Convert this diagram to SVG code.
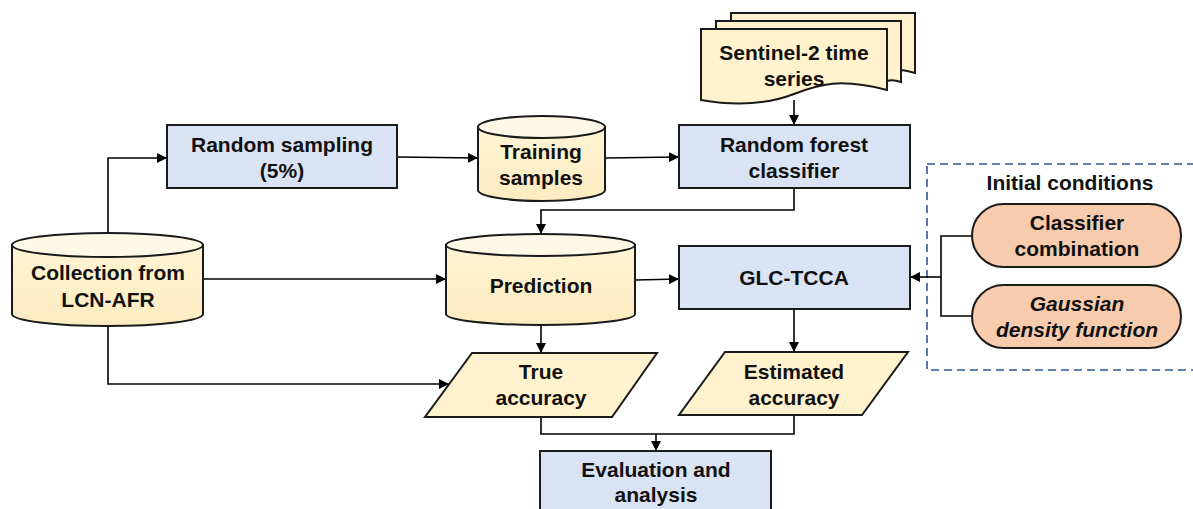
<svg xmlns="http://www.w3.org/2000/svg" width="1193" height="509" viewBox="0 0 1193 509">
  <defs>
    <marker id="arrow" viewBox="0 0 10 10" refX="10" refY="5" markerWidth="10" markerHeight="10" markerUnits="userSpaceOnUse" orient="auto">
      <path d="M0,0 L10,5 L0,10 Z" fill="#000"/>
    </marker>
    <linearGradient id="cylBody" x1="0" y1="0" x2="0" y2="1">
      <stop offset="0" stop-color="#FFF4D4"/>
      <stop offset="1" stop-color="#FBEBC0"/>
    </linearGradient>
  </defs>
  <style>
    .box { fill: #DAE3F3; stroke: #1a1a1a; stroke-width: 2; }
    .data { fill: #FFF2CC; stroke: #1a1a1a; stroke-width: 2; }
    .cyl { fill: url(#cylBody); stroke: #1a1a1a; stroke-width: 2; }
    .cyltop { fill: #FFF8E6; stroke: #1a1a1a; stroke-width: 2; }
    .pill { fill: #F8CBAD; stroke: #1a1a1a; stroke-width: 2; }
    .group { fill: none; stroke: #2F5597; stroke-width: 1.6; stroke-dasharray: 8 5; }
    .conn { fill: none; stroke: #000; stroke-width: 1.6; }
    text { font-family: "Liberation Sans", Arial, sans-serif; font-size: 21px; font-weight: bold; fill: #111; text-anchor: middle; }
    .it { font-style: italic; }
  </style>

  <!-- initial conditions group frame -->
  <g id="initial-conditions">
    <rect class="group" x="927" y="164" width="280" height="206"/>
    <text x="1070" y="190">Initial conditions</text>
  </g>

  <!-- connectors -->
  <g id="connectors">
    <path class="conn" d="M108,236 V158 H167" marker-end="url(#arrow)"/>
    <path class="conn" d="M397,157 L478,158" marker-end="url(#arrow)"/>
    <path class="conn" d="M605,158 L679,157" marker-end="url(#arrow)"/>
    <path class="conn" d="M794,100 V125" marker-end="url(#arrow)"/>
    <path class="conn" d="M794,188 V210 H541 V234" marker-end="url(#arrow)"/>
    <path class="conn" d="M203,279 H446" marker-end="url(#arrow)"/>
    <path class="conn" d="M636,280 L679,279" marker-end="url(#arrow)"/>
    <path class="conn" d="M108,326 V384 H449" marker-end="url(#arrow)"/>
    <path class="conn" d="M541,326 V353" marker-end="url(#arrow)"/>
    <path class="conn" d="M794,309 V352" marker-end="url(#arrow)"/>
    <path class="conn" d="M972,236 H941 V316 H972"/>
    <path class="conn" d="M941,277 H910" marker-end="url(#arrow)"/>
    <path class="conn" d="M541,417 V434 H794 V415"/>
    <path class="conn" d="M656,434 V451" marker-end="url(#arrow)"/>
  </g>

  <!-- Sentinel-2 time series (stacked documents) -->
  <g id="sentinel2">
    <path class="data" d="M731,13 H915 V73 C905,70 900,70 901,70 V21 H731 Z"/>
    <path class="data" d="M716,21 H901 V82 C895,80 890,80 887,81 V29 H716 Z"/>
    <path class="data" d="M701,29 H887 V90 C840,78 820,84 794,94 C768,104 735,106 701,100 Z"/>
    <text x="794" y="60">Sentinel-2 time</text>
    <text x="794" y="86">series</text>
  </g>

  <!-- Random sampling -->
  <g id="random-sampling">
    <rect class="box" x="167" y="125" width="230" height="63"/>
    <text x="282" y="152">Random sampling</text>
    <text x="282" y="178">(5%)</text>
  </g>

  <!-- Training samples -->
  <g id="training-samples">
    <path class="cyl" d="M478,127 V190 A63.5,11 0 0 0 605,190 V127 Z"/>
    <ellipse class="cyltop" cx="541.5" cy="127" rx="63.5" ry="11"/>
    <text x="541" y="159">Training</text>
    <text x="541" y="185">samples</text>
  </g>

  <!-- Random forest classifier -->
  <g id="random-forest">
    <rect class="box" x="679" y="125" width="231" height="63"/>
    <text x="794" y="152">Random forest</text>
    <text x="794" y="178">classifier</text>
  </g>

  <!-- Collection from LCN-AFR -->
  <g id="collection">
    <path class="cyl" d="M12,245 V314 A95.5,12 0 0 0 203,314 V245 Z"/>
    <ellipse class="cyltop" cx="107.5" cy="245" rx="95.5" ry="12"/>
    <text x="108" y="280">Collection from</text>
    <text x="108" y="307">LCN-AFR</text>
  </g>

  <!-- Prediction -->
  <g id="prediction">
    <path class="cyl" d="M446,245 V314 A94.5,11 0 0 0 635,314 V245 Z"/>
    <ellipse class="cyltop" cx="540.5" cy="245" rx="94.5" ry="11"/>
    <text x="541" y="293">Prediction</text>
  </g>

  <!-- GLC-TCCA -->
  <g id="glc-tcca">
    <rect class="box" x="679" y="246" width="231" height="63"/>
    <text x="794" y="285">GLC-TCCA</text>
  </g>

  <!-- Classifier combination -->
  <g id="classifier-combination">
    <rect class="pill" x="972" y="204" width="209" height="63" rx="31.5" ry="31.5"/>
    <text x="1077" y="230">Classifier</text>
    <text x="1077" y="256">combination</text>
  </g>

  <!-- Gaussian density function -->
  <g id="gaussian-density">
    <rect class="pill" x="972" y="285" width="209" height="63" rx="31.5" ry="31.5"/>
    <text class="it" x="1077" y="311">Gaussian</text>
    <text class="it" x="1077" y="337">density function</text>
  </g>

  <!-- True accuracy -->
  <g id="true-accuracy">
    <path class="data" d="M472,353 H657 L612,417 H425 Z"/>
    <text x="541" y="379">True</text>
    <text x="541" y="405">accuracy</text>
  </g>

  <!-- Estimated accuracy -->
  <g id="estimated-accuracy">
    <path class="data" d="M725,352 H908 L862,415 H679 Z"/>
    <text x="794" y="379">Estimated</text>
    <text x="794" y="405">accuracy</text>
  </g>

  <!-- Evaluation and analysis -->
  <g id="evaluation">
    <rect class="box" x="540" y="451" width="231" height="70"/>
    <text x="656" y="477">Evaluation and</text>
    <text x="656" y="502">analysis</text>
  </g>
</svg>
